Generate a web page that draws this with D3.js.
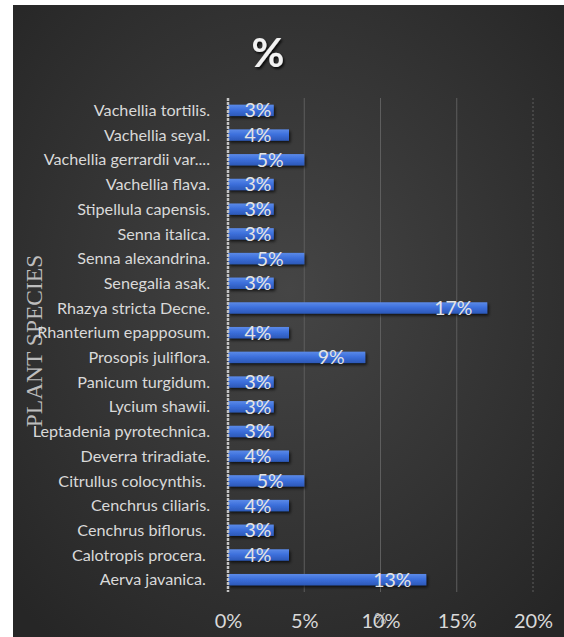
<!DOCTYPE html>
<html><head><meta charset="utf-8">
<script src="https://cdn.jsdelivr.net/npm/d3@7"></script>
<style>html,body{margin:0;padding:0;background:#fff;}svg{display:block;}</style>
</head><body>
<svg id="chart" width="564" height="637"></svg>
<script>
const categories = [
  "Vachellia tortilis.", "Vachellia seyal.", "Vachellia gerrardii var....", "Vachellia flava.",
  "Stipellula capensis.", "Senna italica.", "Senna alexandrina.", "Senegalia asak.",
  "Rhazya stricta Decne.", "Rhanterium epapposum.", "Prosopis juliflora.", "Panicum turgidum.",
  "Lycium shawii.", "Leptadenia pyrotechnica.", "Deverra triradiate.", "Citrullus colocynthis. ",
  "Cenchrus ciliaris.", "Cenchrus biflorus. ", "Calotropis procera. ", "Aerva javanica. "
];
const values = [3, 4, 5, 3, 3, 3, 5, 3, 17, 4, 9, 3, 3, 3, 4, 5, 4, 3, 4, 13];
const valueLabels = ["3%","4%","5%","3%","3%","3%","5%","3%","17%","4%","9%","3%","3%","3%","4%","5%","4%","3%","4%","13%"];
const xTicks = [0, 5, 10, 15, 20];
const titleText = "%";
const yTitleText = "PLANT SPECIES";
const xTitleText = "%";

const svg = d3.select("#chart");
const defs = svg.append("defs");
const bg = defs.append("radialGradient").attr("id","bg").attr("cx","50%").attr("cy","45%").attr("r","70%");
bg.append("stop").attr("offset","0%").attr("stop-color","#454545");
bg.append("stop").attr("offset","100%").attr("stop-color","#262626");
const bar = defs.append("linearGradient").attr("id","bar").attr("x1",0).attr("y1",0).attr("x2",0).attr("y2",1);
bar.append("stop").attr("offset","0%").attr("stop-color","#5b8ae8");
bar.append("stop").attr("offset","45%").attr("stop-color","#3d70dc");
bar.append("stop").attr("offset","100%").attr("stop-color","#2c58b8");
const sh = defs.append("filter").attr("id","sh").attr("x","-10%").attr("y","-50%").attr("width","130%").attr("height","220%");
sh.append("feDropShadow").attr("dx",1.5).attr("dy",2).attr("stdDeviation",1.5).attr("flood-color","#000").attr("flood-opacity",0.7);
const tsh = defs.append("filter").attr("id","tsh");
tsh.append("feDropShadow").attr("dx",1.5).attr("dy",2).attr("stdDeviation",1.2).attr("flood-color","#000").attr("flood-opacity",0.8);

svg.append("rect").attr("x",13).attr("y",5).attr("width",551).attr("height",632).attr("fill","url(#bg)");

const x = d3.scaleLinear().domain([0, 20]).range([228, 533]);
const y = d3.scaleBand().domain(categories).range([98, 592]).paddingInner(0.54).paddingOuter(0.27);

// gridlines
svg.append("g").selectAll("line").data(xTicks.filter(d => d > 0)).join("line")
  .attr("x1", d => x(d)).attr("x2", d => x(d)).attr("y1", 98).attr("y2", 592)
  .attr("stroke", "#5e5e5e").attr("stroke-width", 1)
  .attr("stroke-dasharray", d => d === 20 ? "2,2" : null);

// bars
svg.append("g").selectAll("rect").data(values).join("rect")
  .attr("x", x(0)).attr("y", (d,i) => y(categories[i]))
  .attr("width", d => x(d) - x(0)).attr("height", y.bandwidth())
  .attr("fill", "url(#bar)").attr("filter","url(#sh)");

// y axis line
svg.append("line").attr("x1", x(0)).attr("x2", x(0)).attr("y1", 98).attr("y2", 592)
  .attr("stroke", "#c4c4c4").attr("stroke-width", 2.5).attr("stroke-dasharray","3,1");

// y axis title (drawn under category labels)
svg.append("text").attr("transform","translate(42,341) rotate(-90)")
  .attr("text-anchor","middle")
  .attr("font-family","'Liberation Serif', 'DejaVu Serif', serif").attr("font-size",23.5)
  .attr("fill","#bdbdbd").text(yTitleText);

// category labels
svg.append("g").selectAll("text").data(categories).join("text")
  .attr("x", 210).attr("y", d => y(d) + y.bandwidth()/2)
  .attr("dy","0.35em").attr("text-anchor","end")
  .style("white-space","pre")
  .attr("font-family","Lato, 'Open Sans', sans-serif").attr("font-size",16.2)
  .attr("fill","#d9d9d9").text(d => d);

// value labels
svg.append("g").selectAll("text").data(values).join("text")
  .attr("x", d => Math.max(x(d) - 34, x(0) + 30))
  .attr("y", (d,i) => y(categories[i]) + y.bandwidth()/2)
  .attr("dy","0.36em").attr("text-anchor","middle")
  .attr("font-family","Lato, 'Open Sans', sans-serif").attr("font-size",19.5)
  .attr("fill","#e4e4e4").text((d,i) => valueLabels[i]);

// x tick labels
const xAxis = d3.axisBottom(x).tickValues(xTicks).tickFormat(d => d + "%").tickSize(0);
const gx = svg.append("g").attr("transform","translate(0,611)").call(xAxis);
gx.select(".domain").remove();
gx.selectAll("text").attr("font-family","Lato, 'Open Sans', sans-serif").attr("font-size",20)
  .attr("fill","#d9d9d9").attr("dy","0.71em");

// x axis title (overlapping)
svg.append("text").attr("x", x(10)).attr("y", 624).attr("text-anchor","middle")
  .attr("font-family","Lato, 'Open Sans', sans-serif").attr("font-size",15)
  .attr("fill","#bfbfbf").text(xTitleText);

// title
svg.append("text").attr("x", 268).attr("y", 67).attr("text-anchor","middle")
  .attr("font-family","Lato, 'Open Sans', sans-serif").attr("font-weight","bold").attr("font-size",40)
  .attr("fill","#f2f2f2").attr("filter","url(#tsh)").text(titleText);
</script>
</body></html>
